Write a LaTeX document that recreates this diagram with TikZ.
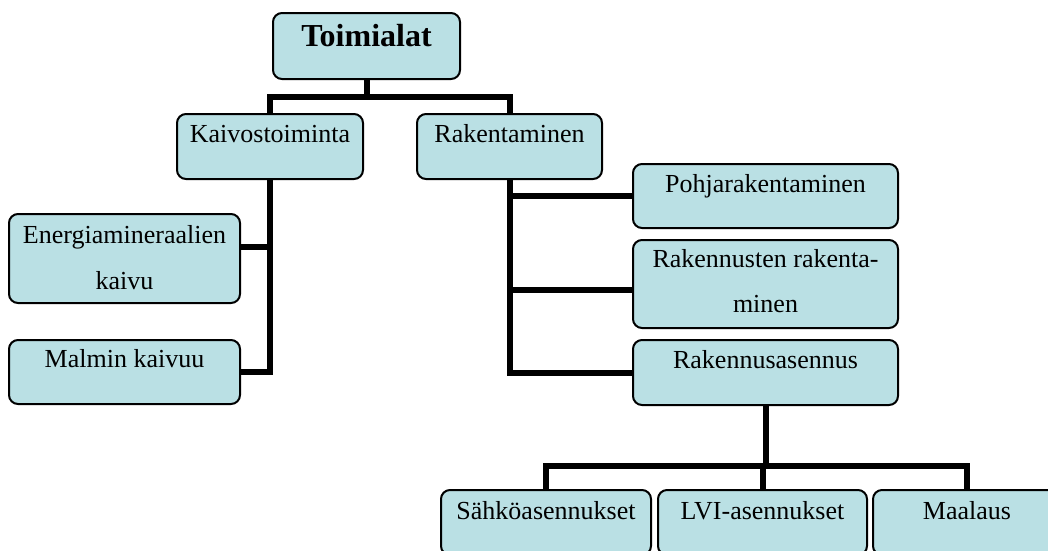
\documentclass[tikz,border=0pt]{standalone}
\usepackage{fontspec}
\setmainfont{Liberation Serif}
\usetikzlibrary{backgrounds}
\definecolor{boxfill}{RGB}{186,224,228}
\tikzset{
  orgbox/.style={draw=black, line width=2pt, fill=boxfill, rounded corners=9pt,
    rectangle, inner sep=0pt},
  lbl/.style={anchor=base, inner sep=0pt, font=\fontsize{26}{30}\selectfont},
  toplbl/.style={anchor=base, inner sep=0pt, font=\fontsize{32}{36}\selectfont\bfseries},
  conn/.style={draw=black, line width=6pt, line join=miter}
}
\begin{document}
\begin{tikzpicture}[x=1pt, y=-1pt]
\useasboundingbox (0,0) rectangle (1048,550);
\clip (0,0) rectangle (1048,550);

% boxes
\node[orgbox, minimum width=187pt, minimum height=66pt] (toim) at (366.5,46) {};
\node[orgbox, minimum width=186pt, minimum height=65pt] (kaivo) at (270,146.5) {};
\node[orgbox, minimum width=185pt, minimum height=65pt] (rak) at (509.5,146.5) {};
\node[orgbox, minimum width=231pt, minimum height=89pt] (energia) at (124.5,258.5) {};
\node[orgbox, minimum width=231pt, minimum height=64pt] (malmin) at (124.5,372) {};
\node[orgbox, minimum width=265pt, minimum height=64pt] (pohja) at (765.5,196) {};
\node[orgbox, minimum width=265pt, minimum height=88pt] (rakennusten) at (765.5,284) {};
\node[orgbox, minimum width=265pt, minimum height=65pt] (asennus) at (765.5,372.5) {};
\node[orgbox, minimum width=210pt, minimum height=65pt] (sahko) at (546,522.5) {};
\node[orgbox, minimum width=209pt, minimum height=65pt] (lvi) at (762.5,522.5) {};
\node[orgbox, minimum width=188pt, minimum height=65pt] (maalaus) at (967,522.5) {};

% labels
\node[toplbl] (t-toim) at ([yshift=-34pt]toim.north) {Toimialat};
\node[lbl] (t-kaivo) at ([yshift=-29pt]kaivo.north) {Kaivostoiminta};
\node[lbl] (t-rak) at ([yshift=-29pt]rak.north) {Rakentaminen};
\node[lbl] (t-energia1) at ([yshift=-30pt]energia.north) {Energiamineraalien};
\node[lbl] (t-energia2) at ([yshift=-76pt]energia.north) {kaivu};
\node[lbl] (t-malmin) at ([yshift=-28pt]malmin.north) {Malmin kaivuu};
\node[lbl] (t-pohja) at ([yshift=-29pt]pohja.north) {Pohjarakentaminen};
\node[lbl] (t-rakennusten1) at ([yshift=-28pt]rakennusten.north) {Rakennusten rakenta-};
\node[lbl] (t-rakennusten2) at ([yshift=-73pt]rakennusten.north) {minen};
\node[lbl] (t-asennus) at ([yshift=-29pt]asennus.north) {Rakennusasennus};
\node[lbl] (t-sahko) at ([yshift=-30pt]sahko.north) {Sähköasennukset};
\node[lbl] (t-lvi) at ([yshift=-30pt]lvi.north) {LVI-asennukset};
\node[lbl] (t-maalaus) at ([yshift=-30pt]maalaus.north) {Maalaus};

% connectors
\begin{scope}[on background layer]
  \draw[conn] (toim.south) -- ++(0,17) coordinate (tj) -| (kaivo.north);
  \draw[conn] (tj) -| (rak.north);

  \draw[conn] (kaivo.south) |- (malmin.east);
  \coordinate (ej) at ([yshift=11.5pt]energia.east);
  \draw[conn] (ej) -- (ej -| kaivo.south);

  \draw[conn] (rak.south) |- (asennus.west);
  \draw[conn] (pohja.west) -- (pohja.west -| rak.south);
  \coordinate (rj) at ([yshift=-6pt]rakennusten.west);
  \draw[conn] (rj) -- (rj -| rak.south);

  \draw[conn] (asennus.south) -- ++(0,60) coordinate (bj);
  \draw[conn] (sahko.north) |- (bj);
  \draw[conn] (maalaus.north) |- (bj);
  \draw[conn] (lvi.north) -- (lvi.north |- bj);
\end{scope}
\end{tikzpicture}
\end{document}
